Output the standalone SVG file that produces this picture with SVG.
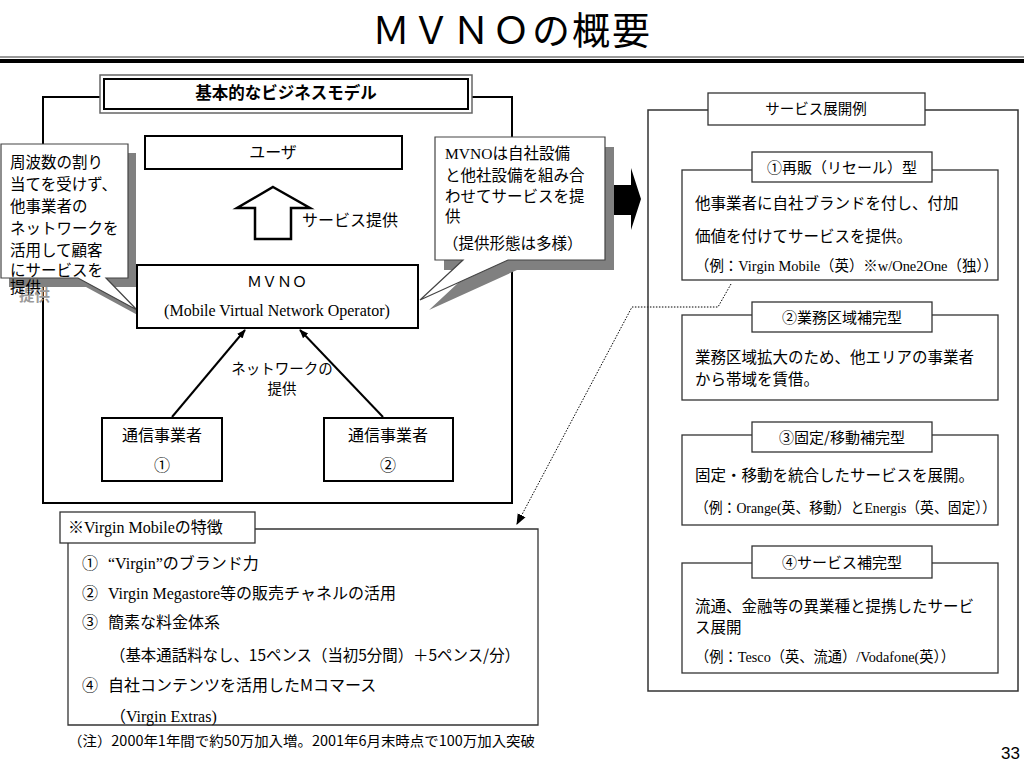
<svg xmlns="http://www.w3.org/2000/svg" width="1024" height="768" viewBox="0 0 1024 768">
<defs>
<style>
text{font-family:"Noto Sans CJK JP","Noto Sans CJK SC",sans-serif;fill:#000}
.s{font-family:"Liberation Serif","Noto Sans CJK JP",serif}
.c{text-anchor:middle}
.bk{fill:#fff;stroke:#000;stroke-width:2}
.gr{fill:#fff;stroke:#333;stroke-width:1.3}
.f16{font-size:16px}
.f15{font-size:15px}
.f155{font-size:15.5px}
</style>
<marker id="ah" viewBox="0 0 10 10" refX="9" refY="5" markerWidth="9" markerHeight="9" markerUnits="userSpaceOnUse" orient="auto">
<path d="M0,1 L10,5 L0,9 Z" fill="#000"/>
</marker>
<marker id="ah2" viewBox="0 0 10 10" refX="9" refY="5" markerWidth="11" markerHeight="11" markerUnits="userSpaceOnUse" orient="auto">
<path d="M0,1 L10,5 L0,9 Z" fill="#000"/>
</marker>
</defs>
<rect width="1024" height="768" fill="#fff"/>

<g id="title">
<text x="512" y="44" class="c" font-size="38" letter-spacing="2">ＭＶＮＯの概要</text>
<line x1="0" y1="57" x2="1024" y2="57" stroke="#777" stroke-width="1.5"/>
<rect x="0" y="59" width="1024" height="4" fill="#000"/>
</g>

<g id="business-model-frame">
<rect x="43" y="97" width="469" height="406" fill="none" stroke="#000" stroke-width="2"/>
<rect x="100" y="75" width="372" height="38" fill="#fff" stroke="#666" stroke-width="1.5"/>
<rect x="104" y="79" width="364" height="30" fill="#fff" stroke="#000" stroke-width="2"/>
<text x="286" y="99" class="c" font-size="16.5" font-weight="bold">基本的なビジネスモデル</text>
</g>

<g id="black-arrow">
<polygon points="605,185 631,185 631,168 641,199 631,230 631,215 605,215" fill="#000"/>
</g>

<g id="connectors">
<line x1="172" y1="417" x2="245" y2="330" stroke="#000" stroke-width="2" marker-end="url(#ah)"/>
<line x1="383" y1="417" x2="300" y2="330" stroke="#000" stroke-width="2" marker-end="url(#ah)"/>
<polyline points="731,284 718,307 632,307 517,524" fill="none" stroke="#000" stroke-width="1" stroke-dasharray="1.5,1.5" marker-end="url(#ah2)"/>
</g>

<g id="left-callout">
<path transform="translate(8,9)" d="M1,144 H128 V278 H106 L137,310 L78,278 H1 Z" fill="#808080"/>
<path d="M1,144 H128 V278 H106 L137,310 L78,278 H1 Z" fill="#fff" stroke="#444" stroke-width="1.2"/>
<g font-size="15.5">
<text x="10" y="168">周波数の割り</text>
<text x="10" y="190">当てを受けず、</text>
<text x="10" y="212">他事業者の</text>
<text x="10" y="234">ネットワークを</text>
<text x="10" y="256">活用して顧客</text>
<text x="10" y="276">にサービスを</text>
<text x="19" y="301" style="fill:#9a9a9a" font-weight="bold">提供</text>
<text x="10" y="293">提供</text>
</g>
</g>

<g id="right-callout">
<path transform="translate(9,10)" d="M435,137 H605 V260 H508 L420,300 L463,260 H435 Z" fill="#808080"/>
<path d="M435,137 H605 V260 H508 L420,300 L463,260 H435 Z" fill="#fff" stroke="#444" stroke-width="1.2"/>
<g font-size="15.5">
<text x="445" y="159"><tspan class="s">MVNO</tspan>は自社設備</text>
<text x="445" y="181">と他社設備を組み合</text>
<text x="445" y="202">わせてサービスを提</text>
<text x="445" y="222">供</text>
<text x="443" y="249">（提供形態は多様）</text>
</g>
</g>

<g id="user">
<rect x="145" y="136" width="257" height="33" class="bk"/>
<text x="273" y="158" class="c f16">ユーザ</text>
</g>

<g id="service-arrow">
<polygon points="273,187 310,208 291,208 291,239 255,239 255,208 237,208" fill="#fff" stroke="#000" stroke-width="2.5"/>
<text x="302" y="226" class="f16">サービス提供</text>
</g>

<g id="mvno">
<rect x="137" y="265" width="281" height="63" class="bk"/>
<text x="277" y="287" class="c f15">ＭＶＮＯ</text>
<text x="277" y="316" class="c s f16">(Mobile Virtual Network Operator)</text>
</g>

<g id="network-label">
<text x="282" y="374" class="c" font-size="14.5">ネットワークの</text>
<text x="282" y="394" class="c" font-size="14.5">提供</text>
</g>

<g id="carrier1">
<rect x="102" y="418" width="120" height="63" class="bk"/>
<text x="162" y="441" class="c f16">通信事業者</text>
<text x="162" y="471" class="c f16">①</text>
</g>

<g id="carrier2">
<rect x="324" y="418" width="129" height="63" class="bk"/>
<text x="388" y="441" class="c f16">通信事業者</text>
<text x="388" y="471" class="c f16">②</text>
</g>

<g id="service-examples">
<rect x="648" y="110" width="370" height="581" fill="none" stroke="#333" stroke-width="1.5"/>
<rect x="708" y="93" width="217" height="32" class="gr"/>
<text x="816" y="114" class="c" font-size="14.5">サービス展開例</text>
</g>

<g id="type1">
<rect x="682" y="170" width="316" height="110" class="gr"/>
<rect x="752" y="152" width="180" height="30" class="gr"/>
<text x="842" y="173" class="c f15">①再販（リセール）型</text>
<text x="695" y="209" class="f155">他事業者に自社ブランドを付し、付加</text>
<text x="695" y="242" class="f155">価値を付けてサービスを提供。</text>
<text x="695" y="271" class="f15" textLength="303" lengthAdjust="spacingAndGlyphs">（例：<tspan class="s">Virgin Mobile</tspan>（英）※<tspan class="s">w/One2One</tspan>（独））</text>
</g>

<g id="type2">
<rect x="682" y="315" width="316" height="85" class="gr"/>
<rect x="752" y="302" width="180" height="30" class="gr"/>
<text x="842" y="323" class="c f15">②業務区域補完型</text>
<text x="695" y="363" class="f155">業務区域拡大のため、他エリアの事業者</text>
<text x="695" y="385" class="f155">から帯域を賃借。</text>
</g>

<g id="type3">
<rect x="682" y="435" width="316" height="90" class="gr"/>
<rect x="752" y="422" width="180" height="30" class="gr"/>
<text x="842" y="443" class="c f15">③固定/移動補完型</text>
<text x="695" y="481" class="f155">固定・移動を統合したサービスを展開。</text>
<text x="695" y="513" class="f15" textLength="301" lengthAdjust="spacingAndGlyphs">（例：<tspan class="s">Orange(</tspan>英、移動）と<tspan class="s">Energis</tspan>（英、固定））</text>
</g>

<g id="type4">
<rect x="682" y="563" width="316" height="110" class="gr"/>
<rect x="752" y="546" width="180" height="32" class="gr"/>
<text x="842" y="568" class="c f15">④サービス補完型</text>
<text x="695" y="612" class="f155">流通、金融等の異業種と提携したサービ</text>
<text x="695" y="633" class="f155">ス展開</text>
<text x="695" y="662" class="f15" textLength="260" lengthAdjust="spacingAndGlyphs">（例：<tspan class="s">Tesco</tspan>（英、流通）<tspan class="s">/Vodafone(</tspan>英））</text>
</g>

<g id="virgin-mobile">
<path d="M255,529 H538 V725 H68 V543" fill="none" stroke="#333" stroke-width="1.3"/>
<rect x="60" y="512" width="195" height="31" class="gr"/>
<text x="68" y="533" class="f16">※<tspan class="s">Virgin Mobile</tspan>の特徴</text>
<g class="f16">
<text x="82" y="569">①</text>
<text x="108" y="569"><tspan class="s">“Virgin”</tspan>のブランド力</text>
<text x="82" y="599">②</text>
<text x="108" y="599"><tspan class="s">Virgin Megastore</tspan>等の販売チャネルの活用</text>
<text x="82" y="628">③</text>
<text x="108" y="628">簡素な料金体系</text>
<text x="110" y="661" textLength="410" lengthAdjust="spacingAndGlyphs">（基本通話料なし、15ペンス（当初5分間）＋5ペンス/分）</text>
<text x="82" y="691">④</text>
<text x="108" y="691">自社コンテンツを活用したMコマース</text>
<text x="110" y="722">（<tspan class="s">Virgin Extras)</tspan></text>
</g>
<text x="68" y="746" font-size="14" textLength="467" lengthAdjust="spacingAndGlyphs">（注）2000年1年間で約50万加入増。2001年6月末時点で100万加入突破</text>
</g>

<g id="page-number">
<text x="1020" y="759" text-anchor="end" font-size="17" style="font-family:'Liberation Sans Narrow','Liberation Sans',sans-serif">33</text>
</g>
</svg>
